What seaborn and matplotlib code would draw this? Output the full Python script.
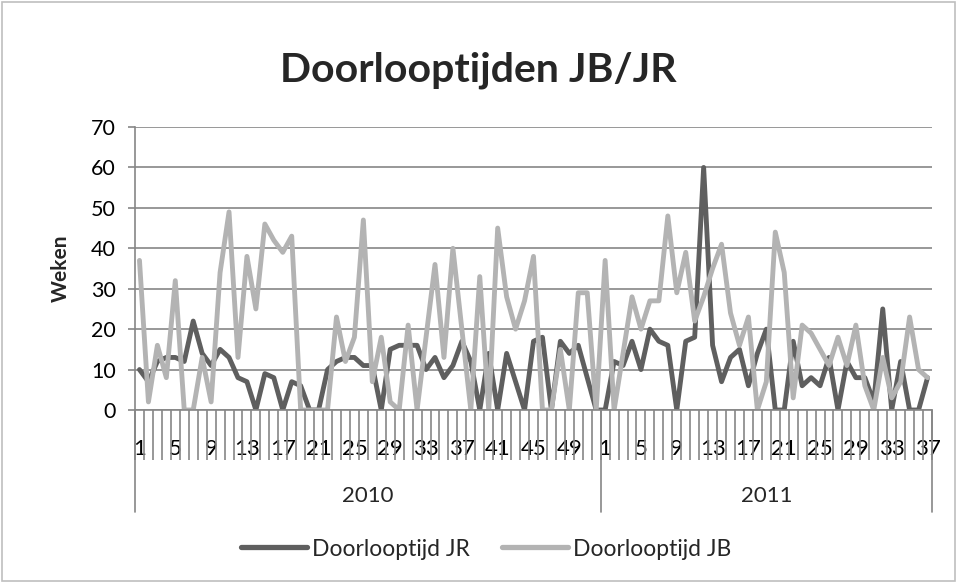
import numpy as np
import pandas as pd
import seaborn as sns
import matplotlib
matplotlib.use("Agg")
import matplotlib.pyplot as plt
from matplotlib.patches import Rectangle

# ---- data ----
years = ["2010", "2011"]
weeks_2010 = list(range(1, 53))
weeks_2011 = list(range(1, 38))
jr = [10, 7, 12, 13, 13, 12, 22, 14, 11, 15,
      13, 8, 7, 0, 9, 8, 0, 7, 6, 0,
      0, 10, 12, 13, 13, 11, 11, 0, 15, 16,
      16, 16, 10, 13, 8, 11, 17, 12, 0, 14,
      0, 14, 7, 0, 17, 18, 0, 17, 14, 16,
      8, 0,
      0, 12, 11, 17, 10, 20, 17, 16, 0, 17,
      18, 60, 16, 7, 13, 15, 6, 14, 20, 0,
      0, 17, 6, 8, 6, 13, 0, 12, 8, 8,
      2, 25, 0, 12, 0, 0, 8]
jb = [37, 2, 16, 8, 32, 0, 0, 13, 2, 34,
      49, 13, 38, 25, 46, 42, 39, 43, 0, 0,
      0, 0, 23, 12, 18, 47, 7, 18, 2, 0,
      21, 0, 18, 36, 13, 40, 20, 0, 33, 0,
      45, 28, 20, 27, 38, 0, 0, 15, 0, 29,
      29, 0,
      37, 0, 14, 28, 20, 27, 27, 48, 29, 39,
      22, 28, 35, 41, 24, 16, 23, 0, 7, 44,
      34, 3, 21, 19, 15, 11, 18, 11, 21, 6,
      0, 13, 3, 7, 23, 10, 8]
series_names = ["Doorlooptijd JR", "Doorlooptijd JB"]
title = "Doorlooptijden JB/JR"
ylabel = "Weken"

week_labels = [str(w) for w in weeks_2010] + [str(w) for w in weeks_2011]
n = len(week_labels)
pos = np.arange(n)
df = pd.DataFrame({
    "pos": np.concatenate([pos, pos]),
    "val": jr + jb,
    "serie": [series_names[0]] * n + [series_names[1]] * n,
})

sns.set_theme(style="white")
plt.rcParams["font.family"] = ["Lato", "DejaVu Sans"]

W, H = 957, 583
fig = plt.figure(figsize=(W / 100, H / 100), dpi=100)
L, R, T, B = 135, 932, 127, 410
ax = fig.add_axes([L / W, 1 - B / H, (R - L) / W, (B - T) / H])

grid_c = "#868686"
sns.lineplot(data=df, x="pos", y="val", hue="serie",
             palette=["#5f5f5f", "#b3b3b3"], linewidth=3.5, ax=ax,
             legend=True)

ax.set_xlim(-0.5, n - 0.5)
ax.set_ylim(0, 70)
ax.set_yticks(range(0, 71, 10))
ax.yaxis.grid(True, color=grid_c, linewidth=1.2)
ax.set_axisbelow(True)
for s in ["top", "right"]:
    ax.spines[s].set_visible(False)
for s in ["left", "bottom"]:
    ax.spines[s].set_color(grid_c)
    ax.spines[s].set_linewidth(1.2)
ax.tick_params(axis="y", left=True, length=5, width=1.2, color=grid_c,
               direction="out", pad=9, labelsize=15.5, labelcolor="black")
ax.set_ylabel(ylabel, fontsize=15, fontweight="bold", labelpad=14)
ax.set_xlabel("")

# x ticks: boundaries as minor ticks, labels every 4th week
ax.set_xticks(np.arange(-0.5, n, 1.0), minor=True)
lab_pos = [i for i in range(n) if int(week_labels[i]) % 4 == 1]
ax.set_xticks(lab_pos)
ax.set_xticklabels([week_labels[i] for i in lab_pos])
ax.tick_params(axis="x", which="minor", bottom=True, length=36, width=1.2,
               color=grid_c, direction="out")
ax.tick_params(axis="x", which="major", bottom=True, length=0, pad=21,
               labelsize=16, labelcolor="black")

# group separators and year labels
xt = ax.get_xaxis_transform()
bounds = [-0.5, len(weeks_2010) - 0.5, n - 0.5]
for xb in bounds:
    ax.plot([xb, xb], [0, -(512 - B) / (B - T)], transform=xt, color=grid_c,
            linewidth=1.2, clip_on=False)
ax.text((len(weeks_2010) - 1) / 2, -(496 - B) / (B - T), years[0],
        transform=xt, ha="center", va="center", fontsize=16)
ax.text(len(weeks_2010) + (len(weeks_2011) - 1) / 2, -(496 - B) / (B - T),
        years[1], transform=xt, ha="center", va="center", fontsize=16)

fig.text(0.5, 1 - 70 / H, title, ha="center", va="center", fontsize=29.5,
         fontweight="bold")

sns.move_legend(ax, "center", bbox_to_anchor=(486 / W, 1 - 549 / H),
                bbox_transform=fig.transFigure, ncol=2, frameon=False,
                title=None, fontsize=16.5, handlelength=2.9, columnspacing=1.4,
                handletextpad=0.2)
for line in ax.get_legend().get_lines():
    line.set_linewidth(3.8)

fig.add_artist(Rectangle((2 / W, 2 / H), 1 - 4 / W, 1 - 4 / H,
                         transform=fig.transFigure, fill=False,
                         edgecolor="#bfbfbf", linewidth=1.2))

fig.savefig("out.png", dpi=100, facecolor="white")
